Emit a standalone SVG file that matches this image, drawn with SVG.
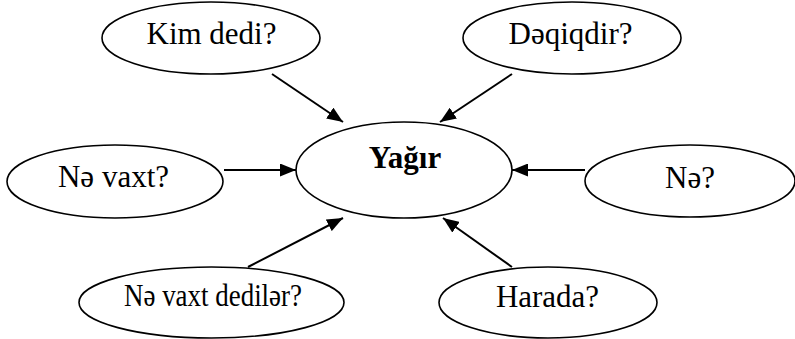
<svg xmlns="http://www.w3.org/2000/svg" width="795" height="339" viewBox="0 0 795 339">
<style>
.n ellipse{fill:#fff;stroke:#000;stroke-width:1.6}
.t{font-family:"Liberation Serif","Times New Roman",serif;font-size:31px;fill:#000;text-anchor:middle}
.b{font-weight:bold}
#edges line{stroke:#000;stroke-width:2}
</style>
<defs>
<marker id="ah" markerUnits="userSpaceOnUse" markerWidth="17" markerHeight="13" refX="16" refY="6.5" orient="auto">
<path d="M0,0 L16,6.5 L0,13 z" fill="#000"/>
</marker>
</defs>
<g id="edges">
<line x1="272" y1="74" x2="343" y2="122" marker-end="url(#ah)"/>
<line x1="512" y1="74" x2="440" y2="122" marker-end="url(#ah)"/>
<line x1="224" y1="170" x2="296" y2="170" marker-end="url(#ah)"/>
<line x1="585" y1="170" x2="512" y2="170" marker-end="url(#ah)"/>
<line x1="248" y1="267" x2="343" y2="218" marker-end="url(#ah)"/>
<line x1="512" y1="267" x2="443" y2="218" marker-end="url(#ah)"/>
</g>
<g id="center" class="n"><ellipse cx="404" cy="170" rx="108" ry="48"/><text class="t b" x="405" y="168">Yağır</text></g>
<g id="kim" class="n"><ellipse cx="211" cy="38" rx="109" ry="36"/><text class="t" x="211.5" y="44">Kim dedi?</text></g>
<g id="deqiq" class="n"><ellipse cx="572" cy="38" rx="109" ry="36"/><text class="t" x="570.5" y="44">Dəqiqdir?</text></g>
<g id="nevaxt" class="n"><ellipse cx="115" cy="181.5" rx="108" ry="36.5"/><text class="t" x="113.5" y="187">Nə vaxt?</text></g>
<g id="ne" class="n"><ellipse cx="690" cy="181" rx="105" ry="36"/><text class="t" x="690" y="188">Nə?</text></g>
<g id="nevaxtdediler" class="n"><ellipse cx="211.5" cy="302.5" rx="132.5" ry="35.5"/><text class="t" x="213" y="306" font-size="29" textLength="178" lengthAdjust="spacingAndGlyphs">Nə vaxt dedilər?</text></g>
<g id="harada" class="n"><ellipse cx="548" cy="302.5" rx="109" ry="35.5"/><text class="t" x="547.5" y="307">Harada?</text></g>
</svg>
